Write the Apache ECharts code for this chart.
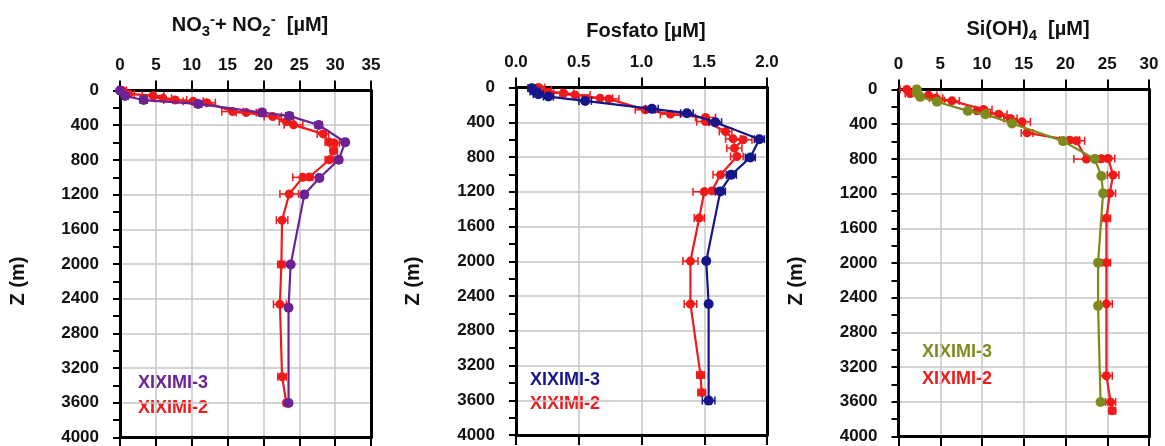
<!DOCTYPE html>
<html>
<head>
<meta charset="utf-8">
<script src="https://cdn.jsdelivr.net/npm/echarts@6/dist/echarts.min.js"></script>
<style>
  html, body { margin: 0; padding: 0; background: #ffffff; }
  #chart { width: 1165px; height: 446px; }
</style>
</head>
<body>
<div id="chart"></div>
<script>
// Depth profiles (m) of nutrients at stations XIXIMI-3 and XIXIMI-2

// --- Nitrate + nitrite (µM) ---
const no3Depth3 = [0, 63, 110, 155, 255, 293, 397, 596, 798, 1009, 1200, 2005, 2503, 3602];
const no3Val3   = [0.0, 0.7, 3.3, 10.9, 19.8, 23.6, 27.7, 31.4, 30.5, 27.8, 25.7, 23.8, 23.5, 23.5];
const no3Err3   = [0.3, 0.4, 0.5, 0.5, 0.5, 0.5, 0.5, 0.4, 0.4, 0.4, 0.3, 0.3, 0.3, 0.3];
const no3Depth2 = [0, 40, 60, 90, 110, 125, 140, 243, 255, 301, 358, 396, 500, 596, 607, 695, 798, 997, 1001, 1193, 1496, 2005, 2465, 3300, 3602];
const no3Val2   = [0.3, 1.2, 4.6, 6.0, 7.7, 10.2, 12.1, 15.7, 17.6, 21.3, 23.2, 24.2, 28.3, 29.2, 29.9, 29.8, 29.2, 26.4, 25.5, 23.6, 22.6, 22.5, 22.3, 22.6, 23.2];
const no3Err2   = [0.6, 0.8, 1.5, 1.2, 1.6, 1.4, 1.2, 1.5, 1.4, 1.2, 1.0, 1.3, 0.8, 0.6, 0.7, 0.5, 0.6, 1.2, 1.4, 1.3, 0.8, 0.5, 0.9, 0.6, 0.3];

// --- Phosphate (µM) ---
const po4Depth3 = [8, 46, 77, 104, 154, 246, 296, 399, 595, 805, 1005, 1196, 1998, 2492, 3604];
const po4Val3   = [0.125, 0.152, 0.178, 0.258, 0.551, 1.083, 1.362, 1.588, 1.939, 1.867, 1.716, 1.628, 1.516, 1.535, 1.535];
const po4Err3   = [0.03, 0.04, 0.04, 0.04, 0.05, 0.05, 0.05, 0.05, 0.04, 0.04, 0.04, 0.04, 0.02, 0.02, 0.05];
const po4Depth2 = [0, 27, 54, 66, 85, 123, 131, 257, 307, 345, 391, 506, 591, 602, 698, 794, 1005, 1190, 1200, 1503, 1998, 2492, 3309, 3512];
const po4Val2   = [0.18, 0.20, 0.26, 0.38, 0.47, 0.67, 0.74, 1.03, 1.23, 1.51, 1.51, 1.67, 1.73, 1.81, 1.74, 1.76, 1.63, 1.56, 1.50, 1.46, 1.39, 1.39, 1.47, 1.48];
const po4Err2   = [0.05, 0.08, 0.10, 0.08, 0.12, 0.10, 0.08, 0.08, 0.08, 0.08, 0.07, 0.05, 0.06, 0.07, 0.06, 0.05, 0.06, 0.05, 0.09, 0.04, 0.06, 0.05, 0.03, 0.03];

// --- Silicate (µM) ---
const sioDepth3 = [0, 39, 85, 142, 246, 284, 392, 595, 802, 998, 1197, 1996, 2494, 3603];
const sioVal3   = [2.2, 2.2, 2.6, 4.6, 8.3, 10.4, 13.6, 19.7, 23.5, 24.3, 24.5, 23.9, 23.9, 24.2];
const sioErr3   = [0.2, 0.2, 0.2, 0.2, 0.2, 0.2, 0.2, 0.2, 0.2, 0.2, 0.2, 0.2, 0.2, 0.2];
const sioDepth2 = [0, 46, 66, 100, 131, 230, 246, 284, 334, 373, 500, 584, 591, 802, 798, 795, 986, 1197, 1485, 1996, 2471, 3300, 3603, 3703];
const sioVal2   = [1.0, 1.4, 3.6, 4.5, 6.4, 10.2, 9.4, 12.0, 13.4, 14.8, 15.4, 20.5, 21.3, 22.5, 24.3, 25.1, 25.7, 25.3, 24.9, 24.9, 24.9, 24.9, 25.4, 25.6];
const sioErr2   = [0.8, 0.6, 1.0, 0.8, 0.9, 1.0, 0.9, 1.0, 0.8, 1.0, 0.7, 1.2, 1.0, 1.5, 0.6, 0.8, 0.7, 0.7, 0.5, 0.5, 0.7, 0.7, 0.6, 0.4];

// Axis ranges and tick labels
const xRanges = [
  { min: 0, max: 35, interval: 5, decimals: 0 },
  { min: 0, max: 2, interval: 0.5, decimals: 1 },
  { min: 0, max: 30, interval: 5, decimals: 0 }
];
const depthMax = 4000;
const depthStep = 400;
const stationNames = ['XIXIMI-3', 'XIXIMI-2'];

// Colours per panel for XIXIMI-3; XIXIMI-2 is always red
const colors3 = ['#6c2294', '#16168a', '#7f8a1c'];
const color2 = '#f01a1a';

// Panel boxes (px)
const panels = [
  { left: 120, top: 90.5, width: 251, height: 348 },
  { left: 516, top: 87.5, width: 251, height: 347.5 },
  { left: 898.5, top: 89.5, width: 250.5, height: 347 }
];

const FONT = '"Liberation Sans", Arial, sans-serif';

function pairs(vals, depths, errs) {
  return vals.map((v, i) => [v, depths[i], errs[i]]);
}

const datasets = [
  { s3: pairs(no3Val3, no3Depth3, no3Err3), s2: pairs(no3Val2, no3Depth2, no3Err2) },
  { s3: pairs(po4Val3, po4Depth3, po4Err3), s2: pairs(po4Val2, po4Depth2, po4Err2) },
  { s3: pairs(sioVal3, sioDepth3, sioErr3), s2: pairs(sioVal2, sioDepth2, sioErr2) }
];

const grid = panels.map(p => ({ left: p.left, top: p.top, width: p.width, height: p.height, containLabel: false }));

const xAxis = [];
const yAxis = [];
panels.forEach((p, i) => {
  const r = xRanges[i];
  xAxis.push({
    type: 'value', gridIndex: i, position: 'top', min: r.min, max: r.max, interval: r.interval,
    axisLine: { show: true, onZero: false, lineStyle: { color: '#000', width: 3 } },
    axisTick: { show: true, length: 10, lineStyle: { color: '#000', width: 2 } },
    axisLabel: { show: true, margin: 17, color: '#111', fontFamily: FONT, fontWeight: 'bold', fontSize: 17,
      formatter: v => v.toFixed(r.decimals) },
    splitLine: { show: true, lineStyle: { color: '#c6c6c6', width: 1.5 } }
  });
  xAxis.push({
    type: 'value', gridIndex: i, position: 'bottom', min: r.min, max: r.max, interval: r.interval,
    axisLine: { show: true, onZero: false, lineStyle: { color: '#000', width: 3 } },
    axisTick: { show: true, length: 10, lineStyle: { color: '#000', width: 2 } },
    axisLabel: { show: false },
    splitLine: { show: false }
  });
  yAxis.push({
    type: 'value', gridIndex: i, position: 'left', inverse: true, min: 0, max: depthMax, interval: depthStep,
    axisLine: { show: true, onZero: false, lineStyle: { color: '#000', width: 3 } },
    axisTick: { show: true, length: 7, lineStyle: { color: '#000', width: 2 } },
    minorTick: { show: true, splitNumber: 2, length: 7, lineStyle: { color: '#000', width: 2 } },
    axisLabel: { show: true, margin: 21, color: '#111', fontFamily: FONT, fontWeight: 'bold', fontSize: 17,
      formatter: v => String(v) },
    splitLine: { show: true, lineStyle: { color: '#c6c6c6', width: 1.5 } }
  });
  yAxis.push({
    type: 'value', gridIndex: i, position: 'right', inverse: true, min: 0, max: depthMax, interval: depthStep,
    axisLine: { show: true, onZero: false, lineStyle: { color: '#000', width: 3 } },
    axisTick: { show: false }, axisLabel: { show: false }, splitLine: { show: false }
  });
});

// Horizontal error bars with end caps
function errorBars(color) {
  return function (params, api) {
    const x = api.value(0), d = api.value(1), e = api.value(2);
    const a = api.coord([x - e, d]);
    const b = api.coord([x + e, d]);
    const cap = 4;
    const st = { stroke: color, lineWidth: 1.5 };
    return {
      type: 'group',
      children: [
        { type: 'line', shape: { x1: a[0], y1: a[1], x2: b[0], y2: b[1] }, style: st },
        { type: 'line', shape: { x1: a[0], y1: a[1] - cap, x2: a[0], y2: a[1] + cap }, style: st },
        { type: 'line', shape: { x1: b[0], y1: b[1] - cap, x2: b[0], y2: b[1] + cap }, style: st }
      ]
    };
  };
}

const series = [];
datasets.forEach((ds, i) => {
  const xi = i * 2, yi = i * 2;
  // XIXIMI-2 drawn first, XIXIMI-3 on top
  series.push({
    type: 'custom', name: stationNames[1] + ' err', xAxisIndex: xi, yAxisIndex: yi,
    renderItem: errorBars(color2), data: ds.s2, z: 3, silent: true
  });
  series.push({
    type: 'line', name: stationNames[1], xAxisIndex: xi, yAxisIndex: yi, data: ds.s2,
    symbol: 'circle', symbolSize: 9, showAllSymbol: true, animation: false,
    lineStyle: { color: color2, width: 2.2 }, itemStyle: { color: color2 }, z: 4
  });
  series.push({
    type: 'custom', name: stationNames[0] + ' err', xAxisIndex: xi, yAxisIndex: yi,
    renderItem: errorBars(colors3[i]), data: ds.s3, z: 5, silent: true
  });
  series.push({
    type: 'line', name: stationNames[0], xAxisIndex: xi, yAxisIndex: yi, data: ds.s3,
    symbol: 'circle', symbolSize: 10, showAllSymbol: true, animation: false,
    lineStyle: { color: colors3[i], width: 2.2 }, itemStyle: { color: colors3[i] }, z: 6
  });
});

const titleStyle = { fontFamily: FONT, fontWeight: 'bold', fontSize: 20, color: '#111' };
const title = [
  {
    text: '{t|NO}{sub|3}{sup|-}{t|+ NO}{sub|2}{sup|-}{t|  [µM]}',
    left: 245, top: 7, textAlign: 'center',
    textStyle: {
      rich: {
        t: Object.assign({}, titleStyle),
        sub: Object.assign({}, titleStyle, { fontSize: 15, padding: [12, 0, 0, 0] }),
        sup: Object.assign({}, titleStyle, { fontSize: 15, padding: [0, 0, 12, 0] })
      }
    }
  },
  {
    text: 'Fosfato [µM]', left: 641, top: 16, textAlign: 'center',
    textStyle: titleStyle
  },
  {
    text: '{t|Si(OH)}{sub|4}{t|  [µM]}', left: 1023, top: 11, textAlign: 'center',
    textStyle: {
      rich: {
        t: Object.assign({}, titleStyle),
        sub: Object.assign({}, titleStyle, { fontSize: 15, padding: [12, 0, 0, 0] })
      }
    }
  }
];

// Axis names and station labels
const zPos = [{ x: 18, y: 281 }, { x: 413, y: 281 }, { x: 796, y: 281 }];
const legendPos = [
  { x: 138, y3: 383, y2: 408 },
  { x: 530, y3: 380, y2: 404 },
  { x: 922, y3: 352, y2: 379 }
];
const graphic = [];
zPos.forEach(p => {
  graphic.push({
    type: 'text', x: p.x, y: p.y, rotation: Math.PI / 2,
    style: { text: 'Z (m)', fill: '#111', font: 'bold 20px ' + FONT, textAlign: 'center', textVerticalAlign: 'middle' }
  });
});
legendPos.forEach((p, i) => {
  graphic.push({
    type: 'text', x: p.x, y: p.y3,
    style: { text: stationNames[0], fill: colors3[i], font: 'bold 18px ' + FONT, textAlign: 'left', textVerticalAlign: 'middle' }
  });
  graphic.push({
    type: 'text', x: p.x, y: p.y2,
    style: { text: stationNames[1], fill: color2, font: 'bold 18px ' + FONT, textAlign: 'left', textVerticalAlign: 'middle' }
  });
});

const chart = echarts.init(document.getElementById('chart'), null, { renderer: 'canvas' });
chart.setOption({
  backgroundColor: '#ffffff',
  animation: false,
  title, grid, xAxis, yAxis, series, graphic
});
</script>
</body>
</html>
